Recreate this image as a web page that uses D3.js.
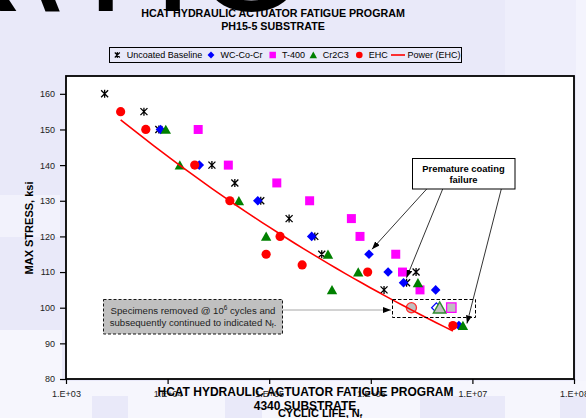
<!DOCTYPE html>
<html><head><meta charset="utf-8">
<script src="https://cdn.jsdelivr.net/npm/d3@7"></script>
<style>
body{margin:0;background:#e9e9f9;}
svg{display:block;font-family:Arial,"Liberation Sans",sans-serif;}
</style>
</head><body>
<svg id="c" width="586" height="418"></svg>
<script>
// ---------------- data ----------------
const xTickValues = [1e3, 1e4, 1e5, 1e6, 1e7, 1e8];
const xTickLabels = ["1.E+03", "1.E+04", "1.E+05", "1.E+06", "1.E+07", "1.E+08"];
const yTickValues = [80, 90, 100, 110, 120, 130, 140, 150, 160];
const seriesNames = ["Uncoated Baseline", "WC-Co-Cr", "T-400", "Cr2C3", "EHC", "Power (EHC)"];

// [cycles, max stress ksi]
const uncoated = [[2.4e3,160],[5.85e3,155],[8.2e3,150],[27.3e3,140],[45.9e3,135],[82.6e3,130],[157e3,125],[281e3,120],[329e3,115],[1.35e6,105],[2.25e6,107],[2.79e6,110]];
const wcCoCr   = [[8.5e3,150],[20.5e3,140],[77.2e3,130],[262e3,120],[960e3,115],[1.48e6,110],[2.1e6,107],[4.35e6,105],[7.36e6,95]];
const t400     = [[20e3,150],[39.6e3,140],[118.8e3,135],[250e3,130],[644e3,125],[783e3,120],[1.76e6,115],[2.05e6,110],[3.05e6,105]];
const cr2c3    = [[9.6e3,150],[13.2e3,140],[50.3e3,130],[93.3e3,120],[379e3,115],[415e3,105],[752e3,110],[2.91e6,107],[8.07e6,95]];
const ehc      = [[3.45e3,155],[6.1e3,150],[18.5e3,140],[41e3,130],[93.3e3,115],[128e3,120],[211e3,112],[931e3,110],[6.43e6,95]];
// runout specimens (removed @ 1e6 cycles, continued)
const ehcRunout = [[2.51e6,100]];
const wcRunout  = [[4.42e6,100]];
const crRunout  = [[4.76e6,100]];
const t4Runout  = [[6.2e6,100]];

// ---------------- setup ----------------
const svg = d3.select("#c");
const x = d3.scaleLog().domain([1e3, 1e8]).range([66, 574]);
const y = d3.scaleLinear().domain([80, 165]).range([379, 76]);

// background patches (slide behind chart)
const bg = svg.append("g");
bg.append("rect").attr("x",505).attr("y",0).attr("width",81).attr("height",76).attr("fill","#eeeefb");
bg.append("rect").attr("x",576).attr("y",0).attr("width",10).attr("height",418).attr("fill","#f4f4fd");
bg.append("rect").attr("x",0).attr("y",195).attr("width",60).attr("height",42).attr("fill","#f2f2fc");
bg.append("rect").attr("x",0).attr("y",330).attr("width",62).attr("height",88).attr("fill","#f6f6fd");
bg.append("rect").attr("x",0).attr("y",381).attr("width",586).attr("height",37).attr("fill","#f6f6fd");
[[92,36],[225,37],[420,85],[560,26]].forEach(([px,w])=>{
  bg.append("rect").attr("x",px).attr("y",396).attr("width",w).attr("height",22).attr("fill","#e9e9f9");
});

const defs = svg.append("defs");
defs.append("marker").attr("id","arr").attr("viewBox","0 0 8 6").attr("refX",8).attr("refY",3)
  .attr("markerWidth",8).attr("markerHeight",6).attr("markerUnits","userSpaceOnUse").attr("orient","auto")
  .append("path").attr("d","M0,0L8,3L0,6Z").attr("fill","#000");

// titles
svg.append("text").attr("x",273).attr("y",16.5).attr("text-anchor","middle")
  .attr("font-size",10.7).attr("font-weight","bold").text("HCAT HYDRAULIC ACTUATOR FATIGUE PROGRAM");
svg.append("text").attr("x",273).attr("y",30).attr("text-anchor","middle")
  .attr("font-size",10.7).attr("font-weight","bold").text("PH15-5 SUBSTRATE");

// large slide title fragment (clipped at top)
svg.append("text").attr("y",11).attr("x","-85 -40 60 152 193").attr("font-size",150).attr("fill","#000").text("RATIO");

// plot area
svg.append("rect").attr("x",66).attr("y",76).attr("width",508).attr("height",303)
  .attr("fill","#fff").attr("stroke","none");

// axes
const yAxis = d3.axisLeft(y).tickValues(yTickValues).tickSize(6).tickPadding(5).tickFormat(d3.format("d"));
const gy = svg.append("g").attr("transform","translate(66,0)").call(yAxis);
const xAxis = d3.axisBottom(x).tickValues(xTickValues).tickSize(5).tickPadding(7)
  .tickFormat((d,i)=>xTickLabels[i]);
const gx = svg.append("g").attr("transform","translate(0,379)").call(xAxis);
[gx, gy].forEach(g=>{
  g.select(".domain").remove();
  g.selectAll(".tick line").attr("stroke","#000").attr("stroke-width",1.2);
  g.selectAll(".tick text").attr("font-size",9).attr("fill","#222").attr("font-family","Arial, Liberation Sans, sans-serif");
});
svg.append("rect").attr("x",66).attr("y",76).attr("width",508).attr("height",303)
  .attr("fill","none").attr("stroke","#000").attr("stroke-width",1.8);

// axis titles
svg.append("text").attr("transform","translate(33,228) rotate(-90)").attr("text-anchor","middle")
  .attr("font-size",11).attr("font-weight","bold").text("MAX STRESS, ksi");

// marker drawing
const shapes = {
  star:    "M-3.5,-3.5L3.5,3.5M-3.5,3.5L3.5,-3.5M0,-4L0,4",
  diamond: "M0,-4.8L4.8,0L0,4.8L-4.8,0Z",
  square:  "M-4.5,-4.5H4.5V4.5H-4.5Z",
  triangle:"M0,-4.8L5.2,4.4L-5.2,4.4Z"
};
function drawPts(data, kind, color, fill, scale=1){
  const g = svg.append("g");
  data.forEach(d=>{
    const tx = `translate(${x(d[0])},${y(d[1])}) scale(${scale})`;
    if(kind==="circle"){
      g.append("circle").attr("transform",tx).attr("r",4.6).attr("fill",fill||color)
        .attr("stroke",color).attr("stroke-width",fill?1.2:0);
    } else if(kind==="star"){
      g.append("path").attr("transform",tx).attr("d",shapes.star).attr("fill","none")
        .attr("stroke",color).attr("stroke-width",1.3);
    } else {
      g.append("path").attr("transform",tx).attr("d",shapes[kind]).attr("fill",fill||color)
        .attr("stroke",fill?color:"none").attr("stroke-width",1.2);
    }
  });
}

drawPts(uncoated,"star","#000");
drawPts(wcCoCr,"diamond","#0000ff");
drawPts(t400,"square","#ff00ff");
drawPts(cr2c3,"triangle","#008000");
drawPts(ehc,"circle","#ff0000");

// runouts
drawPts(ehcRunout,"circle","#ff3030","#c0c0c0",1.1);
drawPts(wcRunout,"diamond","#0000ff","#ffffff");
drawPts(crRunout,"triangle","#2e8b2e","#c0c0c0",1.2);
drawPts(t4Runout,"square","#ff00ff","#c0c0c0",1.05);

// power trendline fitted to EHC data
const ehcAll = ehc.concat(ehcRunout);
const mx = d3.mean(ehcAll, d=>Math.log(d[0])), my = d3.mean(ehcAll, d=>Math.log(d[1]));
const b = d3.sum(ehcAll, d=>(Math.log(d[0])-mx)*(Math.log(d[1])-my)) / d3.sum(ehcAll, d=>(Math.log(d[0])-mx)**2);
const a = Math.exp(my - b*mx);
const [lo, hi] = d3.extent(ehcAll, d=>d[0]);
const trend = d3.range(0,41).map(i=>{ const n = lo*Math.pow(hi/lo, i/40); return [n, a*Math.pow(n,b)]; });
svg.append("path").attr("d", d3.line().x(d=>x(d[0])).y(d=>y(d[1]))(trend))
  .attr("fill","none").attr("stroke","#ff0000").attr("stroke-width",1.6);

// runout dashed box
svg.append("rect").attr("x",392.5).attr("y",299.5).attr("width",83).attr("height",18)
  .attr("fill","none").attr("stroke","#000").attr("stroke-width",1).attr("stroke-dasharray","3.5,2");

// specimens removed note
svg.append("line").attr("x1",283).attr("y1",310).attr("x2",391).attr("y2",310)
  .attr("stroke","#909090").attr("stroke-width",0.8).attr("marker-end","url(#arr)");
svg.append("rect").attr("x",103.5).attr("y",299.5).attr("width",179).attr("height",34.5)
  .attr("fill","#c0c0c0").attr("stroke","#000").attr("stroke-width",0.9).attr("stroke-dasharray","3,2");
const t1 = svg.append("text").attr("x",193).attr("y",314).attr("text-anchor","middle").attr("font-size",9.6).attr("fill","#222");
t1.append("tspan").text("Specimens removed @ 10");
t1.append("tspan").attr("font-size",6.5).attr("dy",-4).text("6");
t1.append("tspan").attr("dy",4).text(" cycles and");
const t2 = svg.append("text").attr("x",193).attr("y",326).attr("text-anchor","middle").attr("font-size",9.6).attr("fill","#222");
t2.append("tspan").text("subsequently continued to indicated N");
t2.append("tspan").attr("font-size",6.5).attr("dy",2).text("f");
t2.append("tspan").attr("dy",-2).text(".");

// premature coating failure callout
svg.append("rect").attr("x",412.5).attr("y",158.5).attr("width",102.5).attr("height",30.5)
  .attr("fill","#fff").attr("stroke","#000").attr("stroke-width",1);
svg.append("text").attr("x",463.5).attr("y",171.5).attr("text-anchor","middle").attr("font-size",9.4)
  .attr("font-weight","bold").text("Premature coating");
svg.append("text").attr("x",463.5).attr("y",182.5).attr("text-anchor","middle").attr("font-size",9.4)
  .attr("font-weight","bold").text("failure");
[[426.7, wcCoCr[4], 3, -3], [442.7, wcCoCr[6], 3, -3], [501.3, cr2c3[8], 4, -0]].forEach(([sx, p, dx, dy])=>{
  svg.append("line").attr("x1",sx).attr("y1",189).attr("x2",x(p[0])+dx).attr("y2",y(p[1])+dy-2)
    .attr("stroke","#000").attr("stroke-width",0.8).attr("marker-end","url(#arr)");
});

// legend
const lg = svg.append("g");
lg.append("rect").attr("x",109.5).attr("y",47.5).attr("width",352).attr("height",15)
  .attr("fill","none").attr("stroke","#000").attr("stroke-width",1);
const legendKinds = [["star","#000"],["diamond","#0000ff"],["square","#ff00ff"],["triangle","#008000"],["circle","#ff0000"],["line","#ff0000"]];
const legendX = [117.3, 211, 272.7, 313.3, 359.3, 391];
legendKinds.forEach(([k,c],i)=>{
  const mxp = legendX[i], myp = 55;
  if(k==="line"){
    lg.append("line").attr("x1",mxp).attr("x2",mxp+14).attr("y1",myp).attr("y2",myp).attr("stroke",c).attr("stroke-width",1.6);
    lg.append("text").attr("x",mxp+16.5).attr("y",58.3).attr("font-size",9).text(seriesNames[i]);
    return;
  }
  const tx = `translate(${mxp},${myp}) scale(0.72)`;
  if(k==="circle") lg.append("circle").attr("transform",tx).attr("r",4.6).attr("fill",c);
  else if(k==="star") lg.append("path").attr("transform",tx).attr("d",shapes.star).attr("fill","none").attr("stroke",c).attr("stroke-width",1.6);
  else lg.append("path").attr("transform",tx).attr("d",shapes[k]).attr("fill",c);
  lg.append("text").attr("x",mxp+9.4).attr("y",58.3).attr("font-size",9).text(seriesNames[i]);
});

// overlapping texts at bottom (next slide chart title + axis title)
svg.append("text").attr("x",305.5).attr("y",395.5).attr("text-anchor","middle")
  .attr("font-size",12).attr("font-weight","bold").text("HCAT HYDRAULIC ACTUATOR FATIGUE PROGRAM");
svg.append("text").attr("x",305).attr("y",410).attr("text-anchor","middle")
  .attr("font-size",12).attr("font-weight","bold").text("4340 SUBSTRATE");
const xt = svg.append("text").attr("x",320).attr("y",416.5).attr("text-anchor","middle")
  .attr("font-size",11).attr("font-weight","bold");
xt.append("tspan").text("CYCLIC LIFE, N");
xt.append("tspan").attr("font-size",7).attr("dy",2).text("f");
</script>
</body></html>
